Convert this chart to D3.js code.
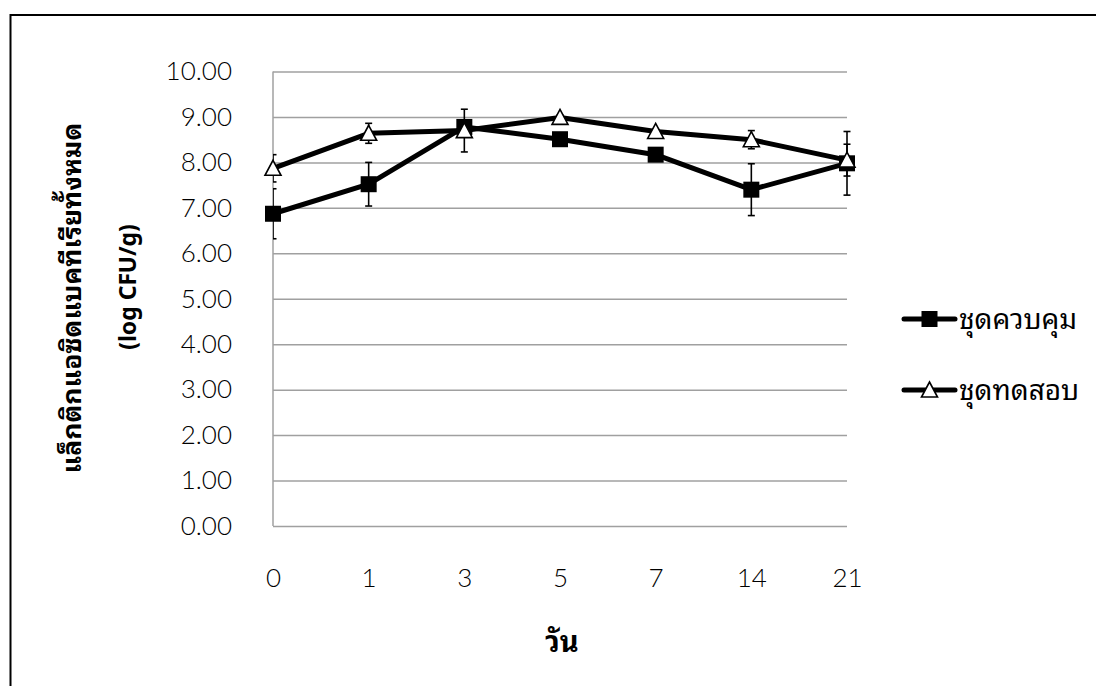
<!DOCTYPE html>
<html>
<head>
<meta charset="utf-8">
<script src="https://cdn.jsdelivr.net/npm/d3@7"></script>
<style>
  body { margin: 0; background: #fff; }
  svg { display: block; }
</style>
</head>
<body>
<svg id="chart" width="1096" height="686"></svg>
<script>
// Sampling days
const days = ["0", "1", "3", "5", "7", "14", "21"];

// Total lactic acid bacteria, log CFU/g (mean and standard deviation)
const controlMean = [6.87, 7.52, 8.78, 8.51, 8.17, 7.40, 7.98];
const controlSD   = [0.55, 0.48, 0.08, 0.05, 0.05, 0.57, 0.70];
const testMean    = [7.87, 8.64, 8.70, 8.99, 8.68, 8.50, 8.05];
const testSD      = [0.30, 0.22, 0.47, 0.05, 0.05, 0.20, 0.35];

const yTicks = [0, 1, 2, 3, 4, 5, 6, 7, 8, 9, 10];
const seriesNames = ["ชุดควบคุม", "ชุดทดสอบ"];
const yTitleLines = ["แล็กติกแอซิดแบคทีเรียทั้งหมด", "(log CFU/g)"];
const xTitle = "วัน";

const series = [
  { name: seriesNames[0], mean: controlMean, sd: controlSD, marker: "square" },
  { name: seriesNames[1], mean: testMean, sd: testSD, marker: "triangle" }
];

const numFont = "Lato, 'Liberation Sans', sans-serif";
const thaiFont = "'Noto Sans Thai Looped', 'Noto Sans Thai', Loma, Garuda, 'Tlwg Typo', 'DejaVu Sans', 'Noto Sans', sans-serif";

const svg = d3.select("#chart");

// Outer frame
svg.append("rect")
  .attr("x", 10.5).attr("y", 15)
  .attr("width", 1200).attr("height", 800)
  .attr("fill", "none").attr("stroke", "#000").attr("stroke-width", 2);

const plot = { left: 273, right: 847, top: 71.5, bottom: 526 };

const x = d3.scalePoint().domain(days).range([plot.left, plot.right]).padding(0);
const y = d3.scaleLinear().domain([0, 10]).range([plot.bottom, plot.top]);

// Horizontal gridlines + y tick labels via axis
const yAxis = d3.axisLeft(y)
  .tickValues(yTicks)
  .tickSize(-(plot.right - plot.left))
  .tickPadding(41)
  .tickFormat(d3.format(".2f"));

const gy = svg.append("g")
  .attr("transform", `translate(${plot.left},0)`)
  .call(yAxis);
gy.select(".domain").attr("stroke", "#a0a0a0").attr("stroke-width", 1.5)
  .attr("d", `M0,${plot.top}V${plot.bottom}`);
gy.selectAll(".tick line").attr("stroke", "#a0a0a0").attr("stroke-width", 1.5);
gy.selectAll(".tick text")
  .attr("font-family", numFont).attr("font-weight", 300)
  .attr("font-size", 26).attr("fill", "#000");

// Category labels along the bottom
const xAxis = d3.axisBottom(x).tickSize(0).tickPadding(0);
const gx = svg.append("g")
  .attr("transform", `translate(0,${plot.bottom + 43})`)
  .call(xAxis);
gx.select(".domain").remove();
gx.selectAll(".tick text")
  .attr("font-family", numFont).attr("font-weight", 300)
  .attr("font-size", 26).attr("fill", "#000");

// Error bars (clipped on the left by the plot edge)
svg.append("clipPath").attr("id", "plotclip")
  .append("rect").attr("x", plot.left).attr("y", 0).attr("width", 700).attr("height", 686);

const errG = svg.append("g").attr("clip-path", "url(#plotclip)");
const capW = 7;
series.forEach(s => {
  days.forEach((d, i) => {
    const cx = x(d), y1 = y(s.mean[i] + s.sd[i]), y2 = y(s.mean[i] - s.sd[i]);
    errG.append("line").attr("x1", cx).attr("x2", cx).attr("y1", y1).attr("y2", y2)
      .attr("stroke", "#000").attr("stroke-width", 1.6);
    [y1, y2].forEach(yy => errG.append("line")
      .attr("x1", cx - capW / 2).attr("x2", cx + capW / 2).attr("y1", yy).attr("y2", yy)
      .attr("stroke", "#000").attr("stroke-width", 1.6));
  });
});

// Series lines
const line = d3.line().x((d, i) => x(days[i])).y(d => y(d));
series.forEach(s => {
  svg.append("path").attr("d", line(s.mean))
    .attr("fill", "none").attr("stroke", "#000").attr("stroke-width", 5)
    .attr("stroke-linejoin", "round");
});

// Markers
function drawMarker(g, type, cx, cy) {
  if (type === "square") {
    g.append("rect").attr("x", cx - 8).attr("y", cy - 8).attr("width", 16).attr("height", 16)
      .attr("fill", "#000");
  } else {
    g.append("path")
      .attr("d", `M${cx},${cy - 8}L${cx + 8},${cy + 7}L${cx - 8},${cy + 7}Z`)
      .attr("fill", "#fff").attr("stroke", "#000").attr("stroke-width", 1.6)
      .attr("stroke-linejoin", "miter");
  }
}
const markG = svg.append("g");
series.forEach(s => {
  s.mean.forEach((v, i) => drawMarker(markG, s.marker, x(days[i]), y(v)));
});

// Legend
const legendY = [319, 390];
series.forEach((s, k) => {
  const ly = legendY[k];
  const lg = svg.append("g");
  lg.append("line").attr("x1", 904).attr("x2", 955).attr("y1", ly).attr("y2", ly)
    .attr("stroke", "#000").attr("stroke-width", 5).attr("stroke-linecap", "round");
  drawMarker(lg, s.marker, 929.5, ly);
  lg.append("text").attr("x", 959).attr("y", ly).attr("dy", "0.35em")
    .attr("font-family", thaiFont).attr("font-size", 28).attr("fill", "#000")
    .text(s.name);
});

// Axis titles
svg.append("text")
  .attr("transform", "translate(72,298) rotate(-90)")
  .attr("text-anchor", "middle").attr("dy", "0.35em")
  .attr("font-family", thaiFont).attr("font-weight", 700).attr("font-size", 26.5).attr("fill", "#000")
  .text(yTitleLines[0]);
svg.append("text")
  .attr("transform", "translate(128,287) rotate(-90)")
  .attr("text-anchor", "middle").attr("dy", "0.35em")
  .attr("font-family", thaiFont).attr("font-weight", 700).attr("font-size", 23).attr("fill", "#000")
  .text(yTitleLines[1]);

svg.append("text")
  .attr("x", 562).attr("y", 642).attr("dy", "0.35em")
  .attr("text-anchor", "middle")
  .attr("font-family", thaiFont).attr("font-weight", 700).attr("font-size", 29).attr("fill", "#000")
  .text(xTitle);
</script>
</body>
</html>
